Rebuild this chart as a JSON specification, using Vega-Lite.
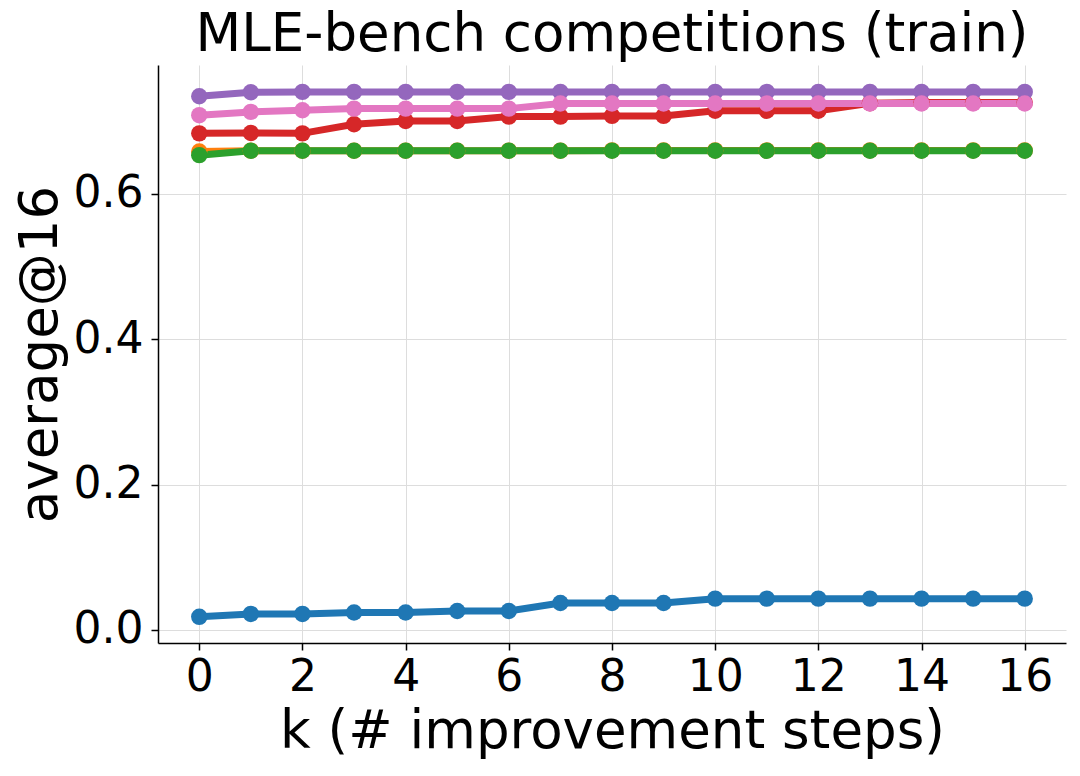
{
  "$schema": "https://vega.github.io/schema/vega-lite/v6.json",
  "width": 908,
  "height": 578,
  "autosize": {"type": "none"},
  "padding": {"left": 158, "top": 65, "right": 14, "bottom": 133},
  "background": "white",
  "title": {
    "text": "MLE-bench competitions (train)",
    "font": "DejaVu Sans",
    "fontSize": 53,
    "fontWeight": "normal",
    "color": "black",
    "anchor": "middle",
    "offset": 3
  },
  "config": {
    "view": {"stroke": null},
    "font": "DejaVu Sans",
    "axis": {
      "labelFont": "DejaVu Sans",
      "titleFont": "DejaVu Sans",
      "labelFontSize": 44,
      "titleFontSize": 53,
      "titleFontWeight": "normal",
      "labelColor": "black",
      "titleColor": "black",
      "domainColor": "black",
      "domainWidth": 1.5,
      "tickColor": "black",
      "tickWidth": 1.5,
      "tickSize": 7,
      "gridColor": "#dddddd",
      "gridWidth": 1
    }
  },
  "data": {
    "values": [
      {"k": 0, "s": "a", "v": 0.018}, {"k": 1, "s": "a", "v": 0.022}, {"k": 2, "s": "a", "v": 0.022}, {"k": 3, "s": "a", "v": 0.024}, {"k": 4, "s": "a", "v": 0.024}, {"k": 5, "s": "a", "v": 0.026}, {"k": 6, "s": "a", "v": 0.026}, {"k": 7, "s": "a", "v": 0.037}, {"k": 8, "s": "a", "v": 0.037}, {"k": 9, "s": "a", "v": 0.037}, {"k": 10, "s": "a", "v": 0.043}, {"k": 11, "s": "a", "v": 0.043}, {"k": 12, "s": "a", "v": 0.043}, {"k": 13, "s": "a", "v": 0.043}, {"k": 14, "s": "a", "v": 0.043}, {"k": 15, "s": "a", "v": 0.043}, {"k": 16, "s": "a", "v": 0.043},
      {"k": 0, "s": "b", "v": 0.658}, {"k": 1, "s": "b", "v": 0.6592}, {"k": 2, "s": "b", "v": 0.6592}, {"k": 3, "s": "b", "v": 0.6592}, {"k": 4, "s": "b", "v": 0.6592}, {"k": 5, "s": "b", "v": 0.6592}, {"k": 6, "s": "b", "v": 0.6592}, {"k": 7, "s": "b", "v": 0.6592}, {"k": 8, "s": "b", "v": 0.6595}, {"k": 9, "s": "b", "v": 0.6595}, {"k": 10, "s": "b", "v": 0.6595}, {"k": 11, "s": "b", "v": 0.6595}, {"k": 12, "s": "b", "v": 0.6595}, {"k": 13, "s": "b", "v": 0.6595}, {"k": 14, "s": "b", "v": 0.6595}, {"k": 15, "s": "b", "v": 0.6595}, {"k": 16, "s": "b", "v": 0.6595},
      {"k": 0, "s": "c", "v": 0.653}, {"k": 1, "s": "c", "v": 0.659}, {"k": 2, "s": "c", "v": 0.659}, {"k": 3, "s": "c", "v": 0.659}, {"k": 4, "s": "c", "v": 0.659}, {"k": 5, "s": "c", "v": 0.659}, {"k": 6, "s": "c", "v": 0.659}, {"k": 7, "s": "c", "v": 0.659}, {"k": 8, "s": "c", "v": 0.659}, {"k": 9, "s": "c", "v": 0.659}, {"k": 10, "s": "c", "v": 0.659}, {"k": 11, "s": "c", "v": 0.659}, {"k": 12, "s": "c", "v": 0.659}, {"k": 13, "s": "c", "v": 0.659}, {"k": 14, "s": "c", "v": 0.659}, {"k": 15, "s": "c", "v": 0.659}, {"k": 16, "s": "c", "v": 0.659},
      {"k": 0, "s": "d", "v": 0.683}, {"k": 1, "s": "d", "v": 0.6835}, {"k": 2, "s": "d", "v": 0.683}, {"k": 3, "s": "d", "v": 0.6955}, {"k": 4, "s": "d", "v": 0.700}, {"k": 5, "s": "d", "v": 0.700}, {"k": 6, "s": "d", "v": 0.706}, {"k": 7, "s": "d", "v": 0.706}, {"k": 8, "s": "d", "v": 0.707}, {"k": 9, "s": "d", "v": 0.707}, {"k": 10, "s": "d", "v": 0.714}, {"k": 11, "s": "d", "v": 0.714}, {"k": 12, "s": "d", "v": 0.714}, {"k": 13, "s": "d", "v": 0.7245}, {"k": 14, "s": "d", "v": 0.7255}, {"k": 15, "s": "d", "v": 0.7255}, {"k": 16, "s": "d", "v": 0.7255},
      {"k": 0, "s": "e", "v": 0.734}, {"k": 1, "s": "e", "v": 0.7395}, {"k": 2, "s": "e", "v": 0.740}, {"k": 3, "s": "e", "v": 0.740}, {"k": 4, "s": "e", "v": 0.740}, {"k": 5, "s": "e", "v": 0.740}, {"k": 6, "s": "e", "v": 0.740}, {"k": 7, "s": "e", "v": 0.740}, {"k": 8, "s": "e", "v": 0.740}, {"k": 9, "s": "e", "v": 0.740}, {"k": 10, "s": "e", "v": 0.740}, {"k": 11, "s": "e", "v": 0.740}, {"k": 12, "s": "e", "v": 0.740}, {"k": 13, "s": "e", "v": 0.740}, {"k": 14, "s": "e", "v": 0.740}, {"k": 15, "s": "e", "v": 0.740}, {"k": 16, "s": "e", "v": 0.740},
      {"k": 0, "s": "f", "v": 0.708}, {"k": 1, "s": "f", "v": 0.7125}, {"k": 2, "s": "f", "v": 0.7148}, {"k": 3, "s": "f", "v": 0.717}, {"k": 4, "s": "f", "v": 0.717}, {"k": 5, "s": "f", "v": 0.717}, {"k": 6, "s": "f", "v": 0.717}, {"k": 7, "s": "f", "v": 0.724}, {"k": 8, "s": "f", "v": 0.724}, {"k": 9, "s": "f", "v": 0.724}, {"k": 10, "s": "f", "v": 0.724}, {"k": 11, "s": "f", "v": 0.724}, {"k": 12, "s": "f", "v": 0.724}, {"k": 13, "s": "f", "v": 0.724}, {"k": 14, "s": "f", "v": 0.724}, {"k": 15, "s": "f", "v": 0.724}, {"k": 16, "s": "f", "v": 0.724}
    ]
  },
  "mark": {"type": "line", "strokeWidth": 7, "point": {"size": 270, "filled": true, "opacity": 1}},
  "encoding": {
    "x": {
      "field": "k",
      "type": "quantitative",
      "scale": {"domain": [-0.8, 16.8], "nice": false, "zero": false},
      "axis": {"values": [0, 2, 4, 6, 8, 10, 12, 14, 16], "format": "d", "title": "k (# improvement steps)", "labelPadding": 5, "titlePadding": 6, "labelFlush": false}
    },
    "y": {
      "field": "v",
      "type": "quantitative",
      "scale": {"domain": [-0.018, 0.777], "nice": false, "zero": false},
      "axis": {"values": [0, 0.2, 0.4, 0.6], "format": ".1f", "title": "average@16", "labelPadding": 8, "titlePadding": 6, "labelFlush": false}
    },
    "color": {
      "field": "s",
      "type": "nominal",
      "scale": {"domain": ["a", "b", "c", "d", "e", "f"], "range": ["#1f77b4", "#ff7f0e", "#2ca02c", "#d62728", "#9467bd", "#e377c2"]},
      "legend": null
    }
  }
}
